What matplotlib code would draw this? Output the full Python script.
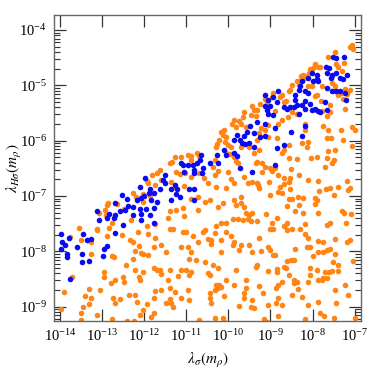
import matplotlib
matplotlib.use("Agg")
import matplotlib.pyplot as plt
import numpy as np

# log10 values
# orange points: log10(lambda_sigma), log10(lambda_Hsigma)
orange_lx = [
    -11.82, -11.70, -11.94, -11.91, -11.74, -12.28, -12.19, -12.04, -12.03, -11.86,
    -12.87, -12.65, -12.89, -12.93, -13.08, -12.49, -12.92, -12.78, -12.33, -12.84,
    -13.12, -13.56, -11.74, -11.94,
    -13.78, -13.52, -13.27, -13.12, -12.89, -12.53, -12.16, -11.92, -12.35, -12.28,
    -11.74, -12.14, -12.22, -12.08, -12.03, -11.92, -11.78, -12.77, -12.73, -13.27,
    -12.26, -12.43, -12.22, -12.03, -11.77, -11.70, -12.97, -12.97, -13.73, -12.51,
    -12.71, -12.79, -12.48, -12.14, -12.10, -13.92, -13.31, -13.06, -11.76, -13.42,
    -13.28, -12.37, -12.23, -12.75, -12.69, -12.57, -12.18, -11.95, -11.78, -13.32,
    -13.46, -13.99, -13.50, -13.12, -12.03, -12.11, -11.78, -12.78, -13.52, -12.41,
    -12.24, -11.84,
    -9.43, -9.39, -9.47, -9.64, -9.66, -9.74, -9.86, -9.92, -9.82, -9.69,
    -9.58, -9.35, -10.10, -10.18, -10.14, -10.06, -10.22, -10.08, -10.02, -10.27,
    -10.30, -9.94, -9.70, -9.50, -9.39, -9.96, -10.06, -9.88, -9.82, -9.78,
    -10.32, -10.37, -10.24, -10.33, -10.02, -9.94, -9.86, -9.62, -9.54, -9.43,
    -9.31, -10.06, -10.30, -10.49, -9.35, -11.28, -11.35, -11.40, -11.13, -10.97,
    -10.89, -10.75, -10.71, -10.89, -11.24, -11.16, -11.03, -10.90, -11.64, -11.60,
    -11.36, -11.28, -10.69, -10.59, -11.05,
    -10.73, -10.57, -10.45, -10.89, -11.09, -11.24, -11.40, -11.44, -11.40, -11.32,
    -11.05, -10.73, -10.26, -10.14, -9.86, -9.82, -9.69, -9.64, -9.69, -9.58,
    -9.50, -9.43, -9.78, -9.66, -9.54, -9.47, -9.90, -10.06, -10.18, -10.30,
    -10.06, -10.33, -10.57, -10.61, -11.09, -11.01, -10.49, -10.73, -10.85, -10.41,
    -10.41, -10.18, -9.94, -9.86, -9.69, -9.50, -11.60, -9.90, -9.74, -9.43,
    -11.48, -11.13, -10.97, -10.89, -10.18, -10.93, -10.77, -10.57, -10.37, -10.26,
    -11.64, -11.40, -11.60, -11.13, -11.01, -10.89, -10.93, -11.20, -10.49, -10.45,
    -9.82, -9.35, -9.58, -11.44, -10.06, -10.22, -10.30, -10.26, -10.33, -10.18,
    -9.88, -9.58, -11.60, -11.40, -10.97, -11.28, -11.13, -10.93, -11.40, -11.36,
    -11.32, -11.48, -10.45, -10.45, -10.41, -10.11, -9.62, -9.62, -9.43, -9.39,
    -9.47, -9.74, -10.33, -10.14, -10.10, -10.69,
    -7.07, -7.11, -7.03, -7.46, -7.64, -7.24, -7.43, -7.40, -7.29, -7.54,
    -7.82, -7.86, -7.94, -7.98, -8.06, -8.08, -8.14, -8.22, -8.27, -8.19,
    -8.37, -8.29, -8.33, -8.48, -7.78, -8.10, -8.02, -7.90, -7.94, -8.53,
    -8.57, -8.73, -8.77, -8.93, -8.97, -9.13, -9.09, -9.24, -9.32, -8.69,
    -8.63, -8.89, -8.73, -8.48, -8.37, -8.59, -8.81, -9.05, -9.13, -9.28,
    -9.22, -8.18, -8.18, -7.74, -7.62, -7.32, -7.07, -6.99, -7.23, -7.27,
    -7.23, -7.46, -7.40, -7.32, -7.11, -7.19, -7.46, -7.53, -7.80, -7.92,
    -7.58, -7.58, -7.78, -7.66,
    -9.32, -9.05, -8.85, -8.57, -8.69, -8.73, -9.28, -9.32, -9.20, -9.13,
    -9.01, -8.89, -8.57, -8.37, -8.10, -8.14, -8.24, -7.66, -7.56, -7.27,
    -7.07, -7.46, -7.62, -8.03, -7.90, -7.66, -7.50, -7.54, -7.70, -8.51,
    -9.20, -8.97, -8.81, -8.69, -8.53, -8.33, -9.03, -9.30, -9.27, -8.57,
    -8.77, -8.69, -8.81, -8.73, -8.53, -8.10, -7.86, -7.19, -7.58, -7.69,
    -7.39, -7.11, -7.15, -7.84, -7.48, -9.01, -8.57, -8.49, -8.35, -8.22,
    -7.94, -7.90, -7.94, -8.33, -8.61, -8.41, -8.22, -7.88, -9.11, -8.85,
    -7.31, -7.24, -7.09, -9.32, -8.97, -8.61, -8.19, -7.58, -7.21,
    -9.01, -8.93, -8.69, -8.61, -8.49, -8.29, -7.66, -8.18, -8.10, -7.86,
    -7.74, -7.46, -7.19, -7.11, -9.28, -9.05, -9.01, -9.22, -8.93, -8.89,
    -8.41, -8.14, -8.06, -7.98, -7.86, -7.74, -7.66, -7.58, -7.46, -7.03,
    -8.61, -8.51, -8.43, -9.32, -9.05, -8.85, -8.85, -8.67, -8.64, -8.57,
    -8.06, -7.90, -7.70, -7.61, -7.53, -7.40, -7.39, -7.52, -8.06, -8.73,
    -8.81, -8.87, -8.45, -8.43, -8.37, -8.10, -7.86, -7.78, -7.74, -7.66,
    -9.27, -9.19, -8.35, -8.26, -8.49, -8.81, -7.46, -7.23, -7.15, -9.06,
    -8.73, -8.87, -8.10, -7.86, -7.82, -7.43, -8.81, -9.16, -7.72, -8.18,
    -9.09, -7.50, -6.99,
]
orange_ly = [
    -6.62, -6.59, -6.72, -6.77, -6.81, -6.94, -7.01, -6.96, -7.11, -7.00,
    -7.13, -7.15, -7.17, -7.25, -7.30, -7.24, -7.35, -7.49, -7.44, -7.57,
    -7.59, -7.57, -7.51, -7.54,
    -7.74, -7.80, -7.84, -7.62, -7.72, -7.71, -7.65, -7.69, -7.80, -7.83,
    -7.75, -7.90, -7.99, -8.03, -8.05, -8.07, -7.92, -8.09, -8.11, -8.04,
    -8.13, -8.25, -8.34, -8.37, -8.31, -8.33, -8.38, -8.46, -8.47, -8.46,
    -8.51, -8.58, -8.55, -8.47, -8.51, -8.73, -8.68, -8.70, -8.72, -8.81,
    -8.85, -8.78, -8.79, -8.85, -8.94, -8.87, -8.91, -8.95, -8.85, -8.95,
    -9.00, -9.04, -9.11, -9.15, -9.06, -9.15, -9.12, -9.22, -9.24, -9.25,
    -9.25, -9.19,
    -5.37, -5.45, -5.54, -5.49, -5.57, -5.64, -5.63, -5.70, -5.75, -5.70,
    -5.75, -5.55, -5.80, -5.84, -5.90, -5.93, -5.98, -6.02, -6.08, -6.06,
    -6.11, -6.11, -6.11, -6.11, -6.23, -6.24, -6.22, -6.29, -6.36, -6.41,
    -6.35, -6.48, -6.54, -6.62, -6.56, -6.70, -6.77, -6.66, -6.77, -6.74,
    -6.77, -6.86, -6.84, -6.77, -6.41, -6.30, -6.38, -6.41, -6.29, -6.26,
    -6.28, -6.22, -6.28, -6.35, -6.56, -6.60, -6.58, -6.65, -6.53, -6.71,
    -6.74, -6.84, -6.59, -6.68, -6.82,
    -7.01, -7.10, -7.07, -7.06, -7.22, -7.25, -7.28, -7.40, -7.59, -7.60,
    -7.37, -7.25, -7.19, -7.13, -7.07, -7.16, -7.13, -7.19, -7.01, -7.31,
    -7.34, -7.31, -7.42, -7.43, -7.42, -7.46, -7.42, -7.48, -7.49, -7.54,
    -7.65, -7.67, -7.62, -7.65, -7.65, -7.65, -7.78, -7.83, -7.73, -7.80,
    -7.86, -7.80, -7.73, -7.83, -7.89, -7.89, -7.89, -7.89, -7.98, -8.01,
    -8.01, -7.92, -7.92, -8.01, -8.01, -8.13, -8.16, -8.19, -8.25, -8.31,
    -8.34, -8.34, -8.41, -8.33, -8.33, -8.37, -8.43, -8.45, -8.40, -8.43,
    -8.34, -8.28, -8.51, -8.52, -8.52, -8.60, -8.61, -8.67, -8.70, -8.64,
    -8.60, -8.67, -8.70, -8.67, -8.70, -8.73, -8.85, -8.88, -8.87, -8.94,
    -9.01, -8.94, -8.76, -8.85, -8.94, -8.81, -8.76, -8.85, -8.88, -9.03,
    -9.01, -8.99, -9.21, -9.21, -9.27, -9.24,
    -4.27, -4.31, -4.35, -4.39, -4.48, -4.59, -4.61, -4.67, -4.75, -4.83,
    -4.66, -4.67, -4.61, -4.69, -4.71, -4.78, -4.83, -4.81, -4.84, -4.87,
    -4.92, -4.93, -4.99, -4.99, -5.02, -5.01, -5.02, -5.17, -5.20, -5.08,
    -5.11, -5.17, -5.22, -5.14, -5.22, -5.24, -5.30, -5.33, -5.45, -5.30,
    -5.28, -5.46, -5.63, -5.49, -5.51, -5.58, -5.69, -5.72, -5.81, -5.86,
    -5.78, -5.70, -5.80, -5.74, -5.81, -5.81, -5.76, -5.80, -5.42, -5.24,
    -5.07, -5.11, -5.17, -5.14, -5.08, -5.16, -5.02, -4.96, -5.28, -5.45,
    -5.36, -5.48, -5.46, -5.55,
    -5.99, -5.93, -5.96, -6.07, -6.17, -6.23, -6.17, -6.38, -6.41, -6.47,
    -6.50, -6.50, -6.32, -6.33, -6.02, -6.11, -6.05, -5.96, -5.95, -5.99,
    -6.09, -6.17, -6.19, -6.31, -6.29, -6.31, -6.35, -6.41, -6.47, -6.51,
    -6.56, -6.55, -6.62, -6.68, -6.67, -6.62, -6.74, -6.80, -6.85, -6.75,
    -6.83, -6.79, -6.92, -6.95, -6.87, -6.71, -6.73, -6.73, -6.85, -6.87,
    -6.83, -6.85, -6.89, -6.91, -6.99, -6.99, -7.05, -7.05, -7.01, -7.04,
    -7.04, -7.07, -7.15, -7.17, -7.18, -7.28, -7.31, -7.30, -7.33, -7.39,
    -7.28, -7.30, -7.33, -7.45, -7.49, -7.48, -7.51, -7.48, -7.48,
    -7.60, -7.60, -7.55, -7.61, -7.60, -7.60, -7.52, -7.69, -7.76, -7.81,
    -7.84, -7.78, -7.83, -7.80, -7.76, -7.92, -7.98, -7.99, -8.07, -8.07,
    -7.96, -7.93, -7.93, -8.08, -8.02, -8.01, -7.98, -7.95, -8.04, -8.17,
    -8.17, -8.16, -8.16, -8.25, -8.36, -8.32, -8.38, -8.28, -8.31, -8.43,
    -8.31, -8.34, -8.38, -8.37, -8.36, -8.36, -8.25, -8.19, -8.42, -8.55,
    -8.61, -8.66, -8.52, -8.58, -8.56, -8.56, -8.52, -8.52, -8.49, -8.49,
    -8.62, -8.76, -8.68, -8.82, -8.79, -8.84, -8.70, -8.61, -8.78, -8.97,
    -8.97, -8.94, -8.97, -8.92, -9.12, -8.94, -9.16, -9.22, -9.16, -9.22,
    -9.27, -9.21, -9.20,
]

# blue points
blue_lx = [
    -11.98, -12.10, -11.86, -11.90, -11.78, -11.84, -11.70, -12.53, -12.41, -12.18,
    -12.08, -12.00, -12.26, -12.40, -12.47, -12.57, -12.11, -11.97, -11.78, -12.71,
    -13.12, -12.85, -12.89, -12.71, -12.73, -12.27, -12.08, -11.86, -13.09, -12.52,
    -12.08, -11.78,
    -13.98, -13.80, -13.46, -13.36, -13.26, -12.69, -13.95, -13.90, -13.99, -13.60,
    -12.97, -12.90, -13.84, -13.85, -13.48, -12.98, -13.32, -13.48, -13.78,
    -9.48, -9.56, -9.64, -9.39, -9.72, -9.67, -9.61, -9.50, -9.39, -9.80,
    -9.86, -9.86, -9.80, -10.10, -10.06, -10.28, -10.26, -9.72, -9.45, -10.43,
    -10.65, -10.67, -10.75, -10.85, -10.81, -10.97, -11.09, -11.13, -10.61, -10.63,
    -10.82, -11.05, -11.52, -11.56, -11.52, -11.28, -11.22, -11.36, -11.64, -10.81,
    -10.93,
    -11.24, -11.16, -11.36, -10.81,
    -7.52, -7.43, -7.24, -7.69, -7.61, -7.66, -7.53, -7.43, -7.56, -7.35,
    -7.27, -7.19, -8.02, -7.90, -7.90, -7.98, -7.86, -8.10, -8.26, -8.29,
    -8.18, -8.33, -8.10, -7.66, -7.54, -7.43, -7.35, -7.23, -7.21, -8.81,
    -9.13, -8.93, -9.05, -8.85, -9.13, -9.01, -9.09, -8.41, -8.41, -8.37,
    -8.19, -8.06, -8.45, -8.53, -8.61, -8.69, -8.26, -8.18, -8.02, -7.94,
    -7.86, -7.70, -7.66, -7.82, -8.33, -9.32, -9.14, -8.93, -9.05, -8.89,
    -8.51, -8.18,
    -9.24, -9.13, -8.26, -8.69, -8.85, -8.90,
]
blue_ly = [
    -6.68, -6.83, -6.88, -6.95, -6.94, -7.07, -7.10, -6.98, -7.06, -7.07,
    -7.03, -7.00, -7.19, -7.18, -7.25, -7.27, -7.23, -7.24, -7.22, -7.12,
    -7.28, -7.33, -7.39, -7.35, -7.40, -7.34, -7.33, -7.35, -7.43, -7.52,
    -7.43, -7.48,
    -7.69, -7.76, -7.69, -7.80, -7.78, -7.66, -7.84, -7.89, -7.95, -7.93,
    -7.95, -7.90, -8.04, -8.11, -8.04, -8.09, -8.18, -8.20, -8.50,
    -5.73, -5.84, -5.92, -5.87, -5.98, -6.05, -6.06, -6.04, -6.11, -5.90,
    -5.99, -6.23, -6.28, -6.17, -6.26, -6.26, -6.41, -6.50, -6.56, -6.40,
    -6.26, -6.35, -6.41, -6.44, -6.53, -6.44, -6.44, -6.41, -6.50, -6.58,
    -6.59, -6.56, -6.62, -6.71, -6.77, -6.80, -6.88, -6.88, -6.88, -6.88,
    -6.88,
    -6.96, -7.02, -7.07, -7.08,
    -4.49, -4.51, -4.48, -4.66, -4.69, -4.78, -4.81, -4.78, -4.86, -4.87,
    -4.89, -4.81, -4.78, -4.81, -4.89, -4.93, -4.93, -4.87, -4.93, -5.02,
    -5.11, -5.08, -5.14, -5.04, -5.11, -5.10, -5.10, -5.13, -5.27, -5.10,
    -5.17, -5.22, -5.27, -5.31, -5.37, -5.37, -5.45, -5.17, -5.27, -5.36,
    -5.28, -5.33, -5.39, -5.39, -5.42, -5.39, -5.36, -5.43, -5.45, -5.42,
    -5.46, -5.31, -5.45, -5.48, -5.51, -5.66, -5.69, -5.54, -5.52, -5.78,
    -5.84, -5.74,
    -5.93, -5.92, -5.92, -6.07, -6.14, -6.44,
]

x_ticks = [1e-14, 1e-13, 1e-12, 1e-11, 1e-10, 1e-9, 1e-8, 1e-7]
y_ticks = [1e-9, 1e-8, 1e-7, 1e-6, 1e-5, 1e-4]

plt.rcParams['font.family'] = ['Liberation Serif', 'DejaVu Serif']
plt.rcParams['mathtext.fontset'] = 'stix'

fig = plt.figure(figsize=(3.68, 3.70), dpi=100)
ax = fig.add_axes([0.1467, 0.1324, 0.8343, 0.8271])

ax.scatter(10.0 ** np.array(orange_lx), 10.0 ** np.array(orange_ly),
           s=16, color='#ff8514', linewidths=0, zorder=2)
ax.scatter(10.0 ** np.array(blue_lx), 10.0 ** np.array(blue_ly),
           s=16, color='#0a0af5', linewidths=0, zorder=3)

ax.set_xscale('log')
ax.set_yscale('log')
ax.set_xlim(10 ** -14.152, 10 ** -6.846)
ax.set_ylim(10 ** -9.259, 10 ** -3.729)
ax.set_xticks(x_ticks)
ax.set_yticks(y_ticks)

for sp in ax.spines.values():
    sp.set_color('0.4')
    sp.set_linewidth(1.0)
ax.tick_params(which='both', direction='in', top=True, right=True,
               color='0.2', labelsize=10.5)
ax.tick_params(which='major', length=8.5, width=0.9, pad=5)
ax.tick_params(which='minor', length=4.3, width=0.8)

ax.set_xlabel(r'$\lambda_\sigma(m_\rho)$', fontsize=11)
ax.set_ylabel(r'$\lambda_{H\sigma}(m_\rho)$', fontsize=11)
ax.xaxis.set_label_coords(0.5, -0.098)
ax.yaxis.set_label_coords(-0.098, 0.5)

fig.savefig('out.png', dpi=100)
